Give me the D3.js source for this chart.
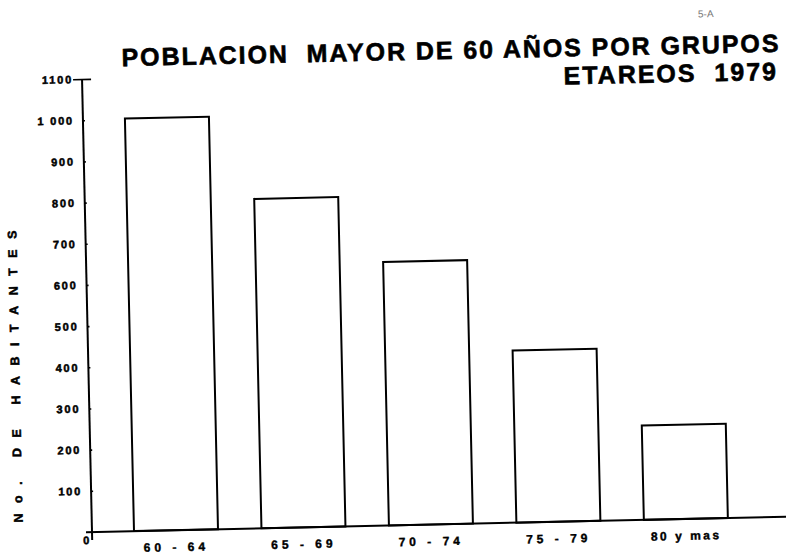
<!DOCTYPE html>
<html>
<head>
<meta charset="utf-8">
<script src="https://cdn.jsdelivr.net/npm/d3@7/dist/d3.min.js"></script>
<style>
  html, body { margin: 0; padding: 0; background: #fff; }
  svg { display: block; }
  text { font-family: "Liberation Sans", Arial, sans-serif; font-weight: bold; fill: #000; }
</style>
</head>
<body>
<div id="chart"></div>
<script>
// ---- data ----
const categories = ["60 - 64", "65 - 69", "70 - 74", "75 - 79", "80 y mas"];
const values = [1002, 800, 640, 418, 229];
const yTickValues = [100, 200, 300, 400, 500, 600, 700, 800, 900, 1000, 1100];
const yTickLabels = ["100", "200", "300", "400", "500", "600", "700", "800", "900", "1 000", "1100"];
const titleLine1 = "POBLACION  MAYOR DE 60 AÑOS POR GRUPOS";
const titleLine2 = "ETAREOS  1979";
const yAxisTitle = "No. DE HABITANTES";
const pageMark = "5-A";

// ---- layout ----
const W = 786, H = 554;
const x0 = 92, y0 = 532;       // plot origin
const tilt = -1.26;            // scan rotation (degrees)

const svg = d3.select("#chart").append("svg")
  .attr("width", W).attr("height", H)
  .style("background", "#fff");

const g = svg.append("g").attr("transform", `rotate(${tilt},${x0},${y0})`);

const y = d3.scaleLinear().domain([0, 1100]).range([y0, 79]);
const x = d3.scaleBand().domain(categories).range([134, 728]).paddingInner(0.341).paddingOuter(0);

// bars
g.selectAll("rect.bar").data(values).join("rect")
  .attr("class", "bar")
  .attr("x", (d, i) => x(categories[i]))
  .attr("y", d => y(d))
  .attr("width", x.bandwidth())
  .attr("height", d => y(0) - y(d))
  .attr("fill", "#fff")
  .attr("stroke", "#000")
  .attr("stroke-width", 2);

// baseline
g.append("line")
  .attr("x1", x0 - 6).attr("x2", 800)
  .attr("y1", y(0)).attr("y2", y(0))
  .attr("stroke", "#000").attr("stroke-width", 2);

// y axis
const yAxis = d3.axisLeft(y)
  .tickValues(yTickValues)
  .tickFormat((d, i) => yTickLabels[i])
  .tickSizeInner(8).tickSizeOuter(0).tickPadding(1);

const ax = g.append("g").attr("transform", `translate(${x0},0)`).call(yAxis);
ax.select(".domain").remove();
ax.selectAll(".tick line").attr("stroke", "#000").attr("stroke-width", 1.6)
  .attr("x2", d => d === 1100 ? 9 : 2)
  .attr("x1", d => d === 1100 ? -9 : 0);
ax.selectAll(".tick text")
  .style("font-size", "11px")
  .style("letter-spacing", "1.8px")
  .style("stroke", "#000").style("stroke-width", "0.5px")
  .attr("fill", "#000");

g.append("line")
  .attr("x1", x0).attr("x2", x0)
  .attr("y1", y(1100)).attr("y2", y(0) + 8)
  .attr("stroke", "#000").attr("stroke-width", 2);

// zero label
g.append("text")
  .attr("x", x0 - 3).attr("y", y(0) + 12)
  .attr("text-anchor", "end")
  .style("font-size", "11px")
  .style("stroke", "#000").style("stroke-width", "0.5px")
  .text("0");

// x labels
g.selectAll("text.xlab").data(categories).join("text")
  .attr("class", "xlab")
  .attr("x", d => x(d) + x.bandwidth() / 2)
  .attr("y", y(0) + 21)
  .attr("text-anchor", "middle")
  .style("font-size", "12px")
  .style("letter-spacing", d => d.indexOf("y") >= 0 ? "2.5px" : "4px")
  .style("white-space", "pre")
  .style("stroke", "#000").style("stroke-width", "0.4px")
  .text(d => d);

// y axis title
g.append("text")
  .attr("transform", `translate(23,521) rotate(-90)`)
  .attr("text-anchor", "start")
  .style("font-size", "12.5px")
  .style("letter-spacing", "10.5px")
  .style("white-space", "pre")
  .style("stroke", "#000").style("stroke-width", "0.5px")
  .text(yAxisTitle);

// titles
g.append("text")
  .attr("x", 132).attr("y", 67)
  .attr("textLength", 657).attr("lengthAdjust", "spacing")
  .style("font-size", "25px")
  .style("white-space", "pre")
  .style("stroke", "#000").style("stroke-width", "0.6px")
  .text(titleLine1);

g.append("text")
  .attr("x", 788).attr("y", 95)
  .attr("text-anchor", "end")
  .style("font-size", "25px")
  .style("letter-spacing", "2px")
  .style("white-space", "pre")
  .style("stroke", "#000").style("stroke-width", "0.6px")
  .text(titleLine2);

g.append("text")
  .attr("x", 717).attr("y", 31)
  .attr("text-anchor", "middle")
  .style("font-size", "10px")
  .style("font-weight", "normal")
  .style("fill", "#777")
  .text(pageMark);
</script>
</body>
</html>
